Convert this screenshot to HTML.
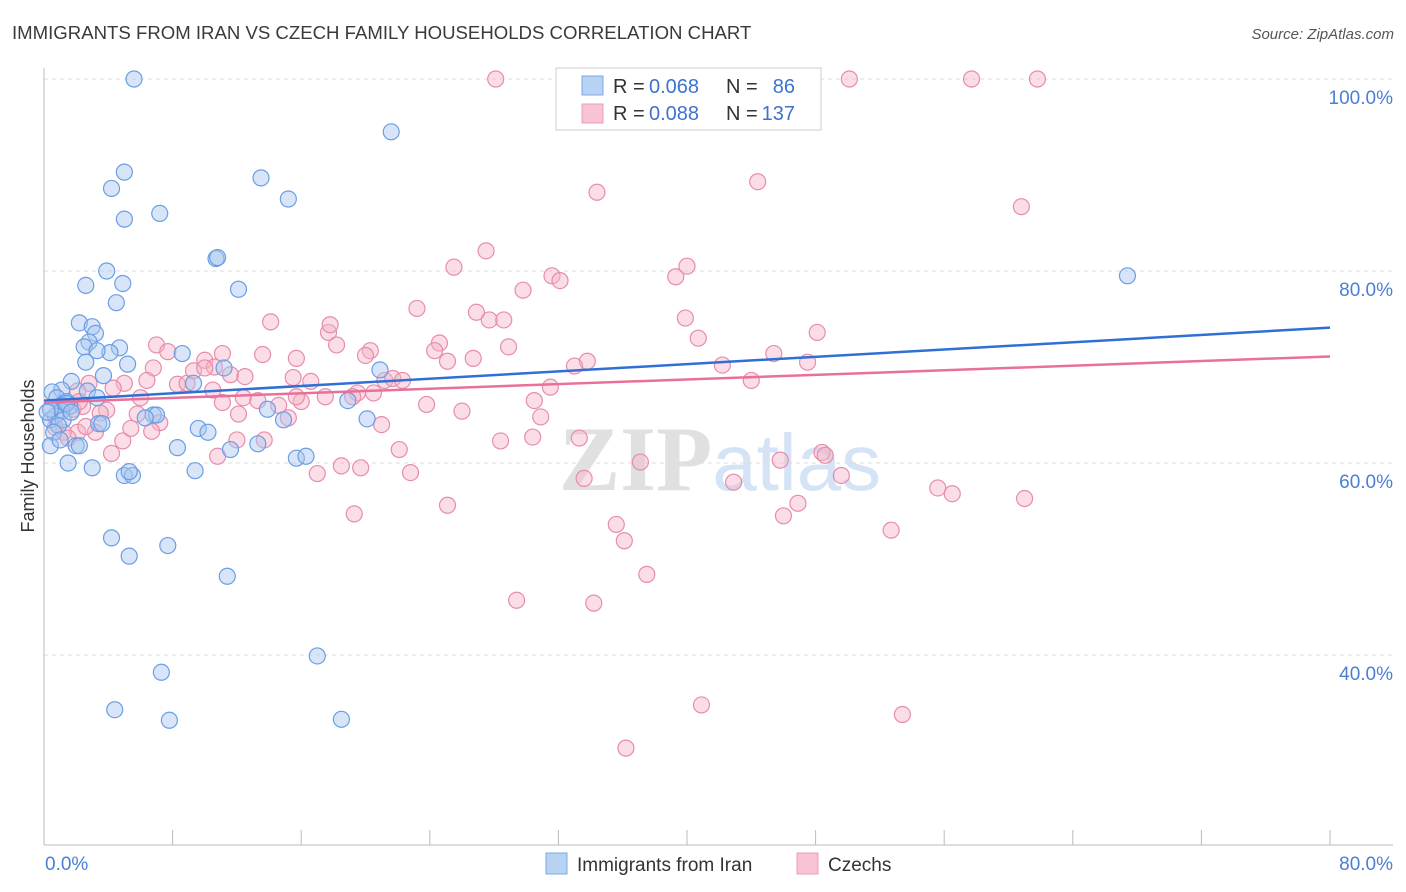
<!DOCTYPE html>
<html><head><meta charset="utf-8"><style>
body{margin:0;background:#fff;font-family:"Liberation Sans",sans-serif}
</style></head><body>
<svg id="chart" width="1406" height="892" xmlns="http://www.w3.org/2000/svg" style="display:block">
<text x="12" y="39" font-size="18.6" fill="#3a3a3a">IMMIGRANTS FROM IRAN VS CZECH FAMILY HOUSEHOLDS CORRELATION CHART</text>
<text x="1394" y="39" font-size="15" fill="#555" text-anchor="end" font-style="italic">Source: ZipAtlas.com</text>
<text x="720" y="490" font-size="92" text-anchor="middle" fill="#e0e0e0" font-family="Liberation Serif,serif" font-weight="bold">ZIP<tspan fill="#d4e3f6" font-family="Liberation Sans,sans-serif" font-weight="normal" font-size="80">atlas</tspan></text>
<g id="grid"></g><g id="axes"></g><g id="pts"></g><g id="trends"></g>
<text transform="translate(34,456) rotate(-90)" font-size="18" fill="#333" text-anchor="middle">Family Households</text>
<g>
<rect x="556" y="68" width="265" height="62" fill="#fff" stroke="#ccc"/>
<rect x="582" y="76" width="21" height="19" fill="#b8d2f4" stroke="#7ea8e4"/>
<rect x="582" y="104" width="21" height="19" fill="#f8c4d4" stroke="#ec9cb8"/>
<text x="613" y="93" font-size="20" fill="#333">R =</text>
<text x="649" y="93" font-size="20" fill="#3e72d0">0.068</text>
<text x="726" y="93" font-size="20" fill="#333">N =</text>
<text x="795" y="93" font-size="20" fill="#3e72d0" text-anchor="end">86</text>
<text x="613" y="120" font-size="20" fill="#333">R =</text>
<text x="649" y="120" font-size="20" fill="#3e72d0">0.088</text>
<text x="726" y="120" font-size="20" fill="#333">N =</text>
<text x="795" y="120" font-size="20" fill="#3e72d0" text-anchor="end">137</text>
</g>
<g>
<rect x="546" y="853" width="21" height="21" fill="#b8d2f4" stroke="#7ea8e4"/>
<text x="577" y="871" font-size="19" fill="#333">Immigrants from Iran</text>
<rect x="797" y="853" width="21" height="21" fill="#f8c4d4" stroke="#ec9cb8"/>
<text x="828" y="871" font-size="19" fill="#333">Czechs</text>
</g>
</svg>
<script>
const blueX=[5.6,21.6,5.0,4.2,13.5,15.2,5.0,7.2,10.7,10.8,3.9,2.6,4.9,12.1,4.5,2.2,3.0,3.2,2.8,2.5,4.7,4.1,3.3,8.6,2.6,5.2,11.2,3.7,1.7,1.1,2.7,9.3,0.5,0.8,1.4,3.3,1.6,1.1,0.7,0.4,1.2,0.9,3.4,3.6,0.6,0.4,2.0,2.2,6.8,7.0,6.3,13.9,14.9,18.9,20.9,20.1,9.6,10.2,8.3,11.6,13.3,15.7,16.3,3.0,1.5,9.4,5.0,5.5,5.3,4.2,5.3,7.7,11.4,17.0,7.3,4.4,7.8,18.5,67.4,1.4,1.7,0.4,1.0,0.2];
const blueY=[100,94.5,90.3,88.6,89.7,87.5,85.4,86.0,81.3,81.4,80.0,78.5,78.7,78.1,76.7,74.6,74.2,73.5,72.6,72.1,72.0,71.5,71.7,71.4,70.5,70.3,69.9,69.1,68.5,67.6,67.5,68.3,67.4,66.8,66.4,66.8,65.9,65.4,64.9,64.5,64.5,63.9,64.1,64.1,63.2,61.8,61.8,61.8,65.0,65.0,64.7,65.6,64.5,66.5,69.7,64.6,63.6,63.2,61.6,61.4,62.0,60.5,60.7,59.5,60.0,59.2,58.7,58.7,59.1,52.2,50.3,51.4,48.2,39.9,38.2,34.3,33.2,33.3,79.5,66.2,65.3,65.6,62.4,65.3];
const pinkX=[28.1,41.7,50.1,57.7,61.8,34.4,44.4,60.8,27.5,25.5,31.6,32.1,29.8,39.3,40.0,23.2,26.9,27.7,28.6,14.1,17.7,17.8,18.2,20.3,20.0,24.6,24.3,28.9,39.9,40.7,48.1,45.4,47.5,42.2,33.8,33.0,25.1,26.7,44.0,7.0,7.7,10.0,11.1,13.6,15.7,6.8,5.0,8.3,8.9,9.3,10.6,10.0,11.6,12.5,15.5,16.6,19.5,21.2,21.7,22.3,19.2,20.5,17.5,16.0,15.7,12.4,10.5,6.4,6.0,4.3,2.8,2.1,1.1,1.8,2.4,3.9,5.8,7.2,11.1,12.1,13.3,14.6,15.2,23.8,26.0,30.5,30.9,31.5,21.0,12.0,13.7,10.8,4.9,4.2,3.2,2.1,1.2,0.7,2.2,3.5,18.5,19.7,17.0,22.8,22.1,25.1,19.3,28.4,30.4,33.3,33.6,37.1,42.9,45.8,48.4,48.6,49.6,46.0,46.9,52.7,55.6,56.5,61.0,35.6,36.1,37.5,29.4,34.2,40.9,53.4,36.2,5.4,6.7,2.6,1.5];
const pinkY=[100,100,100,100,100,88.2,89.3,86.7,82.1,80.4,79.5,79.0,78.0,79.4,80.5,76.1,75.7,74.9,74.9,74.7,73.6,74.4,72.3,71.7,71.2,72.5,71.7,72.1,75.1,73.0,73.6,71.4,70.5,70.2,70.6,70.1,70.6,70.9,68.6,72.3,71.6,70.7,71.4,71.3,70.9,69.9,68.3,68.2,68.3,69.6,70.0,69.9,69.2,69.0,68.9,68.5,67.3,68.6,68.8,68.6,66.9,67.3,66.9,66.4,66.9,66.8,67.6,68.6,66.8,67.8,68.3,67.5,66.0,65.6,65.9,65.5,65.1,64.2,66.3,65.1,66.5,66.0,64.7,66.1,65.4,66.5,64.8,67.9,64.0,62.4,62.4,60.7,62.3,61.0,63.2,63.2,63.2,63.7,66.4,65.2,59.7,59.5,58.9,59.0,61.4,55.6,54.7,62.3,62.7,62.6,58.4,60.1,58.0,60.3,61.1,60.8,58.7,54.5,55.8,53.0,57.4,56.8,56.3,53.6,51.9,48.4,45.7,45.4,34.8,33.8,30.3,63.6,63.3,63.8,62.6];
const blueTrend=[66.5,74.1];
const pinkTrend=[66.3,71.1];
const yTicks=[100,80,60,40];
const xTicks=[0,8,16,24,32,40,48,56,64,72,80];
const NS="http://www.w3.org/2000/svg";
const sx=v=>44+v*16.075, sy=v=>79+(100-v)*9.6;
function mk(t,a,p){const e=document.createElementNS(NS,t);for(const k in a)e.setAttribute(k,a[k]);p.appendChild(e);return e;}
const grid=document.getElementById('grid'),axes=document.getElementById('axes'),pts=document.getElementById('pts'),tr=document.getElementById('trends');
yTicks.forEach(v=>{
 const l=mk('line',{x1:44,x2:1393,y1:sy(v),y2:sy(v),stroke:'#dcdcdc','stroke-dasharray':'4,4'},grid);
 
 
 const t=mk('text',{x:1393,y:sy(v)+25,'font-size':19,fill:'#4a7fd4','text-anchor':'end'},axes);
 t.textContent=v.toFixed(1)+'%';
 
 
});
mk('line',{x1:44,x2:44,y1:68,y2:845,stroke:'#bbb'},axes);
mk('line',{x1:44,x2:1393,y1:845,y2:845,stroke:'#bbb'},axes);
xTicks.forEach(v=>{
 const l=mk('line',{x1:sx(v),x2:sx(v),y1:830,y2:845,stroke:'#bbb'},axes);
 
 
});
[[0,'start'],[80,'end']].forEach(([v,a])=>{
 const t=mk('text',{x:v===0?45:1393,y:870,'font-size':19,fill:'#4a7fd4','text-anchor':a},axes);
 t.textContent=v.toFixed(1)+'%';
 
 
});
function series(X,Y,fill,stroke,name){
 X.forEach((x,i)=>{
  const c=mk('circle',{cx:sx(x),cy:sy(Y[i]),r:8,fill:fill,'fill-opacity':0.45,stroke:stroke,'stroke-width':1.2},pts);
  
  
 });
}
series(pinkX,pinkY,'#f4b4c8','#e88cac','czechs-point');
series(blueX,blueY,'#a8c6f0','#6a9ee4','iran-point');
const lb=mk('line',{x1:sx(0),y1:sy(blueTrend[0]),x2:sx(80),y2:sy(blueTrend[1]),stroke:'#2f6fd6','stroke-width':2.5},tr);


const lp=mk('line',{x1:sx(0),y1:sy(pinkTrend[0]),x2:sx(80),y2:sy(pinkTrend[1]),stroke:'#e8709a','stroke-width':2.5},tr);


</script>
</body></html>
